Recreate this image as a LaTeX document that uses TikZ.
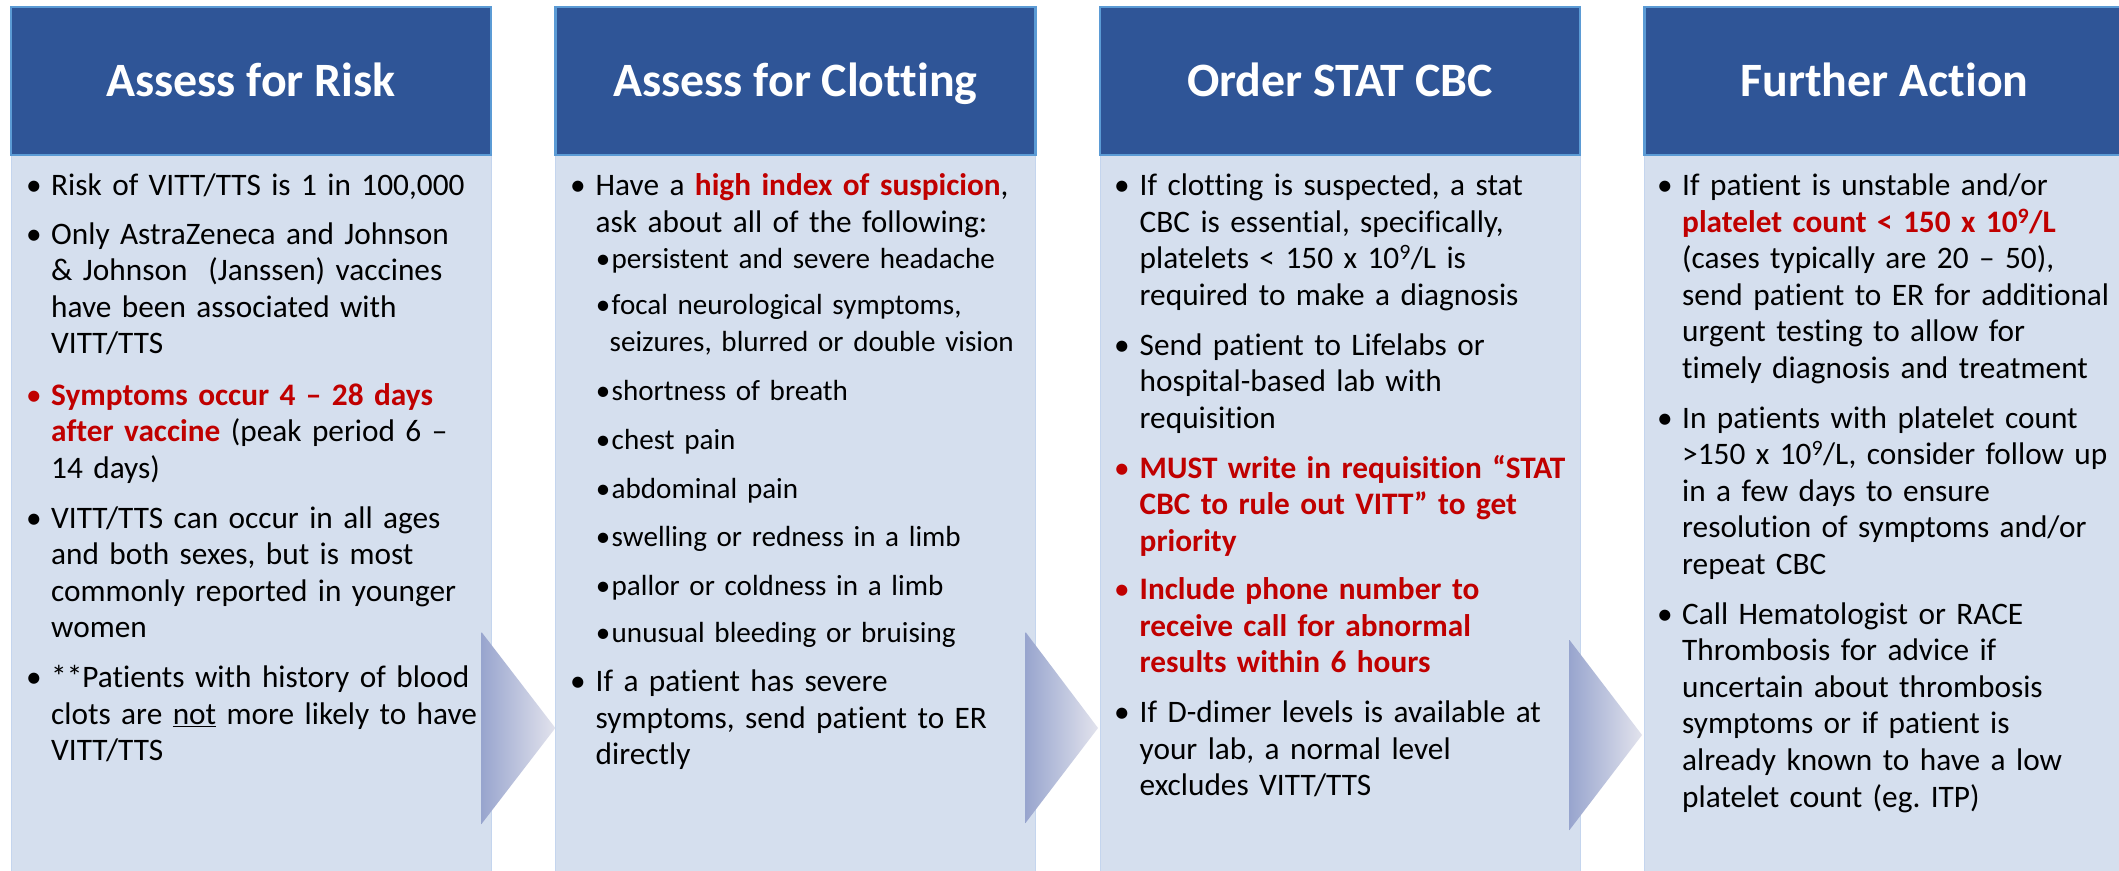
\documentclass[tikz,border=0pt]{standalone}
\usepackage{fontspec}
\setmainfont{Carlito}[Ligatures=NoCommon]
\definecolor{hdrblue}{RGB}{47,85,151}
\definecolor{hdrline}{RGB}{91,155,213}
\definecolor{bodyblue}{RGB}{213,223,238}
\definecolor{bodyline}{RGB}{196,213,238}
\definecolor{redtxt}{RGB}{192,0,0}
\definecolor{chevl}{RGB}{152,165,206}
\definecolor{chevr}{RGB}{226,227,237}
\newcommand\redbf[1]{\textcolor{redtxt}{\bfseries #1}}
\frenchspacing
\begin{document}
\begin{tikzpicture}[x=1pt,y=-1pt,
  hdr/.style={draw=hdrline,fill=hdrblue,line width=2.4pt},
  bodybox/.style={draw=bodyline,fill=bodyblue,line width=1pt},
  chev/.style={left color=chevl,right color=chevr},
  ttl/.style={anchor=base,inner sep=0,text=white,font=\fontsize{47.9}{55}\selectfont\bfseries},
  para/.style={anchor=base west,inner sep=0,align=left,text width=520pt,font=\fontsize{31.3}{36.6}\selectfont},
  subp/.style={para,font=\fontsize{29.1}{37.5}\selectfont},
  bul/.style={anchor=base,inner sep=0,font=\fontsize{31.3}{36.6}\selectfont},
  sbul/.style={anchor=base,inner sep=0,font=\fontsize{29.1}{37.5}\selectfont},
  redbul/.style={bul,text=redtxt}]
\useasboundingbox (0,0) rectangle (2119,870);
\fill[white] (0,0) rectangle (2119,870);
% column boxes
\foreach \x in {11,555.5,1100,1644.5}{
  \path[bodybox] (\x,155) rectangle ++(480,725);
  \path[hdr] (\x,7) rectangle ++(480,148);
}
% chevrons
\shade[chev] (481.5,632) -- (555.3,728) -- (481.5,824) -- cycle;
\shade[chev] (1025.5,632) -- (1098,728) -- (1025.5,823) -- cycle;
\shade[chev] (1569.5,640) -- (1642,735) -- (1569.5,830) -- cycle;
% titles
\node[ttl] (t1) at (251,96.5) {Assess for Risk};
\node[ttl] (t2) at (795.5,96.5) {Assess for Clotting};
\node[ttl] (t3) at (1340,96.5) {Order STAT CBC};
\node[ttl] (t4) at (1884.5,96.5) {Further Action};
% column 1
\node[bul] (c1b1) at (34,195.5) {\textbullet};
\node[para] (c1p1) at (51,195.5) {Risk of VITT/TTS is 1 in 100,000};
\node[bul] (c1b2) at (34,244) {\textbullet};
\node[para] (c1p2) at (51,244) {Only AstraZeneca and Johnson\\\& Johnson\ \ (Janssen) vaccines\\have been associated with\\VITT/TTS};
\node[redbul] (c1b3) at (34,405) {\textbullet};
\node[para] (c1p3) at (51,405) {\redbf{Symptoms occur 4 – 28 days}\\\redbf{after vaccine} (peak period 6 –\\14 days)};
\node[bul] (c1b4) at (34,528) {\textbullet};
\node[para] (c1p4) at (51,528) {VITT/TTS can occur in all ages\\and both sexes, but is most\\commonly reported in younger\\women};
\node[bul] (c1b5) at (34,687.5) {\textbullet};
\node[para] (c1p5) at (51,687.5) {**Patients with history of blood\\clots are \underline{not} more likely to have\\VITT/TTS};
% column 2
\node[bul] (c2b1) at (578,195.5) {\textbullet};
\node[para] (c2p1) at (595.5,195.5) {Have a \redbf{high index of suspicion},\\ask about all of the following:};
\node[sbul] (c2s1b) at (603,268.5) {\textbullet};
\node[subp] (c2s1) at (611.5,268.5) {persistent and severe headache};
\node[sbul] (c2s2b) at (603,314.4) {\textbullet};
\node[subp] (c2s2) at (611.5,314.4) {focal neurological symptoms,\\\hspace*{-2pt}seizures, blurred or double vision};
\node[sbul] (c2s3b) at (603,400.9) {\textbullet};
\node[subp] (c2s3) at (611.5,400.9) {shortness of breath};
\node[sbul] (c2s4b) at (603,449.6) {\textbullet};
\node[subp] (c2s4) at (611.5,449.6) {chest pain};
\node[sbul] (c2s5b) at (603,498.2) {\textbullet};
\node[subp] (c2s5) at (611.5,498.2) {abdominal pain};
\node[sbul] (c2s6b) at (603,546.9) {\textbullet};
\node[subp] (c2s6) at (611.5,546.9) {swelling or redness in a limb};
\node[sbul] (c2s7b) at (603,595.5) {\textbullet};
\node[subp] (c2s7) at (611.5,595.5) {pallor or coldness in a limb};
\node[sbul] (c2s8b) at (603,642.8) {\textbullet};
\node[subp] (c2s8) at (611.5,642.8) {unusual bleeding or bruising};
\node[bul] (c2b2) at (578,691.5) {\textbullet};
\node[para] (c2p2) at (595.5,691.5) {If a patient has severe\\symptoms, send patient to ER\\directly};
% column 3
\node[bul] (c3b1) at (1122,195.5) {\textbullet};
\node[para] (c3p1) at (1139.5,195.5) {If clotting is suspected, a stat\\CBC is essential, specifically,\\platelets < 150 x 10\textsuperscript{9}/L is\\required to make a diagnosis};
\node[bul] (c3b2) at (1122,355) {\textbullet};
\node[para] (c3p2) at (1139.5,355) {Send patient to Lifelabs or\\hospital-based lab with\\requisition};
\node[redbul] (c3b3) at (1122,478) {\textbullet};
\node[para] (c3p3) at (1139.5,478) {\redbf{MUST write in requisition “STAT}\\\redbf{CBC to rule out VITT” to get}\\\redbf{priority}};
\node[redbul] (c3b4) at (1122,599.6) {\textbullet};
\node[para] (c3p4) at (1139.5,599.6) {\redbf{Include phone number to}\\\redbf{receive call for abnormal}\\\redbf{results within 6 hours}};
\node[bul] (c3b5) at (1122,722.5) {\textbullet};
\node[para] (c3p5) at (1139.5,722.5) {If D-dimer levels is available at\\your lab, a normal level\\excludes VITT/TTS};
% column 4
\node[bul] (c4b1) at (1665,195.5) {\textbullet};
\node[para] (c4p1) at (1682,195.5) {If patient is unstable and/or\\\redbf{platelet count < 150 x 10\textsuperscript{9}/L}\\(cases typically are 20 – 50),\\send patient to ER for additional\\urgent testing to allow for\\timely diagnosis and treatment};
\node[bul] (c4b2) at (1665,428) {\textbullet};
\node[para] (c4p2) at (1682,428) {In patients with platelet count\\>150 x 10\textsuperscript{9}/L, consider follow up\\in a few days to ensure\\resolution of symptoms and/or\\repeat CBC};
\node[bul] (c4b3) at (1665,624) {\textbullet};
\node[para] (c4p3) at (1682,624) {Call Hematologist or RACE\\Thrombosis for advice if\\uncertain about thrombosis\\symptoms or if patient is\\already known to have a low\\platelet count (eg. ITP)};
\end{tikzpicture}
\end{document}
